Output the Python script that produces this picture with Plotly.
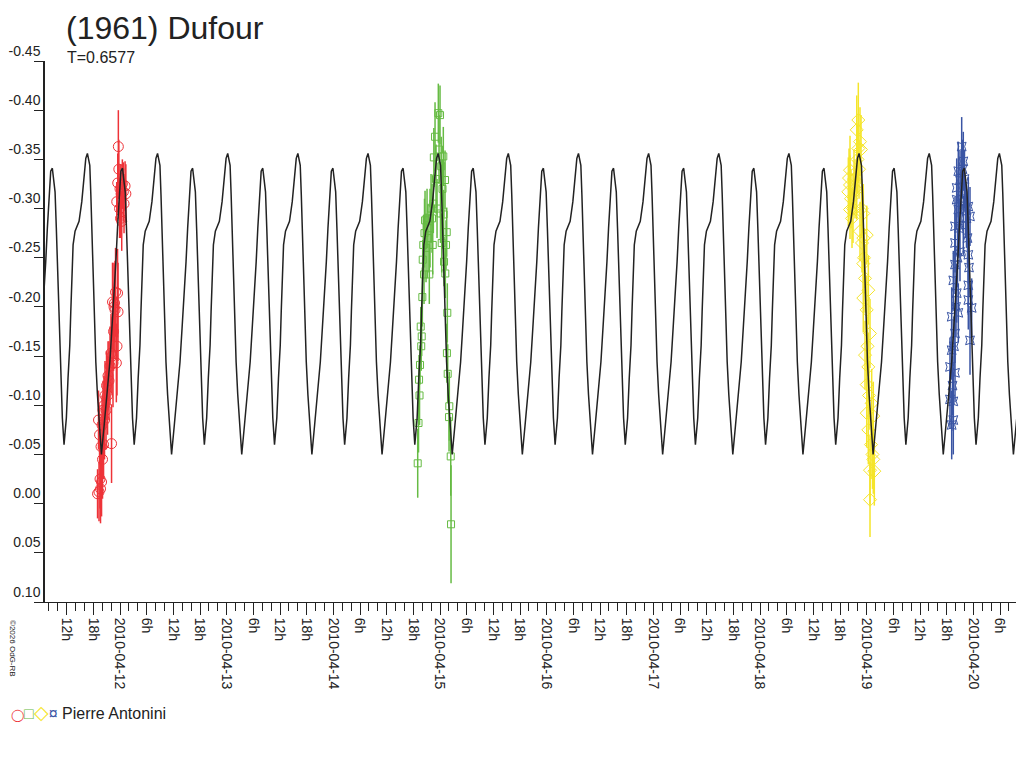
import numpy as np
import pandas as pd
import plotly.graph_objects as go

BASE = pd.Timestamp("2010-04-12 00:00")

# lightcurve model: one cycle, phase counted from the lower maximum
period_h = 0.6577 * 24
epoch_h = 0.55  # hours after 2010-04-12 00:00
model_phase = [0.000, 0.039, 0.057, 0.071, 0.086, 0.096, 0.110, 0.129, 0.143, 0.167,
               0.200, 0.224, 0.249, 0.263, 0.277, 0.296, 0.324, 0.381, 0.420, 0.453,
               0.477, 0.500, 0.534, 0.549, 0.563, 0.571, 0.586, 0.600, 0.620, 0.643,
               0.667, 0.700, 0.739, 0.786, 0.820, 0.849, 0.881, 0.906, 0.929, 0.953, 0.977]
model_mag = [-0.341, -0.317, -0.280, -0.246, -0.212, -0.178, -0.144, -0.111, -0.087, -0.060,
             -0.087, -0.128, -0.161, -0.195, -0.229, -0.263, -0.277, -0.287, -0.307, -0.331,
             -0.351, -0.356, -0.344, -0.314, -0.280, -0.246, -0.212, -0.178, -0.144, -0.111,
             -0.080, -0.050, -0.080, -0.114, -0.144, -0.178, -0.212, -0.246, -0.280, -0.314, -0.338]

# session 1 (red), hours after 2010-04-12 00:00
red_h = [-5.06, -4.84, -4.73, -4.61, -4.50, -4.39, -4.28, -4.16, -4.05, -3.94, -3.83, -3.71,
         -3.60, -3.49, -3.38, -3.15, -3.04, -2.81, -2.70, -2.48, -2.25, -2.03, -1.91, -1.80,
         -1.69, -1.58, -1.46, -1.35, -1.24, -1.13, -1.01, -0.83, -0.68, -0.56, -0.45,
         -0.74, -0.52, -0.38, -0.27, -0.11, 0.00, 0.11, 0.23, 0.38, 0.52, 0.74, 0.90, 1.13, 1.31]
red_mag = [-0.010, -0.085, -0.012, -0.070, -0.025, -0.015, -0.058, -0.022, -0.080, -0.045,
           -0.095, -0.060, -0.100, -0.085, -0.110, -0.095, -0.120, -0.110, -0.130, -0.125,
           -0.140, -0.153, -0.061, -0.150, -0.205, -0.143, -0.175, -0.200, -0.204, -0.197,
           -0.215, -0.143, -0.160, -0.214, -0.195,
           -0.307, -0.326, -0.363, -0.340, -0.300, -0.320, -0.290, -0.315, -0.287, -0.325,
           -0.317, -0.305, -0.323, -0.315]
red_err = [0.025, 0.03, 0.03, 0.03, 0.03, 0.035, 0.03, 0.035, 0.03, 0.04, 0.03, 0.035,
           0.03, 0.04, 0.035, 0.04, 0.035, 0.04, 0.035, 0.04, 0.04, 0.04, 0.04, 0.04,
           0.04, 0.045, 0.04, 0.045, 0.04, 0.05, 0.045, 0.04, 0.05, 0.045, 0.05,
           0.02, 0.03, 0.037, 0.03, 0.03, 0.025, 0.02, 0.03, 0.03, 0.025, 0.03, 0.03, 0.025, 0.03]

# session 2 (green)
green_h = [66.98, 67.16, 67.28, 67.39, 67.50, 67.66, 67.77, 67.88, 68.02, 68.11, 68.24, 68.40,
           68.51, 68.63, 68.85, 69.08, 69.30, 69.59, 69.75, 69.98, 70.20, 70.36, 70.49, 70.61,
           70.88, 71.10, 71.33, 71.62, 71.78, 72.00, 72.11, 72.27, 72.38, 72.56, 72.74, 72.81,
           72.90, 73.13, 73.19, 73.35, 73.51, 73.55, 73.64, 73.73, 74.03, 74.09, 74.41, 74.48]
green_mag = [-0.041, -0.082, -0.126, -0.110, -0.141, -0.180, -0.160, -0.170, -0.210, -0.248,
             -0.263, -0.233, -0.275, -0.288, -0.260, -0.290, -0.270, -0.233, -0.280, -0.300,
             -0.290, -0.263, -0.305, -0.352, -0.373, -0.330, -0.300, -0.397, -0.360, -0.395,
             -0.295, -0.343, -0.265, -0.320, -0.353, -0.294, -0.246, -0.329, -0.234, -0.263,
             -0.276, -0.153, -0.194, -0.132, -0.088, -0.099, -0.048, 0.021]
green_err = [0.035, 0.03, 0.025, 0.03, 0.02, 0.02, 0.025, 0.02, 0.03, 0.02, 0.03, 0.03,
             0.035, 0.03, 0.035, 0.03, 0.035, 0.03, 0.04, 0.035, 0.035, 0.03, 0.03, 0.03,
             0.035, 0.035, 0.03, 0.03, 0.035, 0.03, 0.03, 0.03, 0.03, 0.03, 0.03, 0.025,
             0.025, 0.03, 0.025, 0.025, 0.025, 0.03, 0.03, 0.03, 0.035, 0.035, 0.04, 0.06]

# session 3 (yellow)
yellow_h = [163.87, 164.03, 164.25, 164.25, 164.25, 164.48, 164.70, 164.93, 165.15, 165.38,
            165.76, 165.76, 165.94, 166.12, 166.12, 166.28, 166.50, 166.50, 166.73, 166.84,
            166.95, 167.24, 167.24, 167.24, 167.24, 167.40, 167.63, 167.63, 168.01, 168.01,
            168.01, 168.01, 168.19, 168.37, 168.37, 168.37, 168.53, 168.75, 168.75, 168.75,
            168.98, 169.13, 169.31, 169.49, 169.49, 169.72]
yellow_mag = [-0.317, -0.331, -0.339, -0.324, -0.299, -0.310, -0.290, -0.300, -0.330, -0.320,
              -0.380, -0.319, -0.350, -0.390, -0.361, -0.340, -0.368, -0.277, -0.360, -0.300,
              -0.265, -0.295, -0.270, -0.244, -0.209, -0.250, -0.229, -0.151, -0.273, -0.197,
              -0.121, -0.092, -0.160, -0.217, -0.139, -0.075, -0.110, -0.173, -0.034, -0.004,
              -0.060, -0.102, -0.050, -0.089, -0.045, -0.033]
yellow_err = [0.035, 0.03, 0.035, 0.03, 0.03, 0.03, 0.03, 0.035, 0.03, 0.03,
              0.035, 0.03, 0.035, 0.038, 0.035, 0.03, 0.035, 0.03, 0.035, 0.03,
              0.03, 0.03, 0.035, 0.03, 0.035, 0.03, 0.035, 0.035, 0.03, 0.035,
              0.035, 0.035, 0.03, 0.035, 0.035, 0.035, 0.035, 0.035, 0.035, 0.038,
              0.035, 0.035, 0.035, 0.035, 0.035, 0.035]

# session 4 (blue)
blue_h = [186.75, 186.75, 187.13, 187.13, 187.13, 187.31, 187.49, 187.49, 187.49, 187.65,
          187.88, 187.88, 187.88, 187.88, 187.88, 188.10, 188.26, 188.26, 188.26, 188.44,
          188.62, 188.62, 188.62, 188.78, 189.00, 189.00, 189.23, 189.38, 189.56, 189.74,
          189.74, 190.01, 190.24, 190.46, 190.69, 190.87, 190.87, 190.87, 190.87, 191.03,
          191.25, 191.25, 191.63]
blue_mag = [-0.139, -0.106, -0.190, -0.156, -0.080, -0.120, -0.227, -0.104, -0.085, -0.160,
            -0.282, -0.265, -0.243, -0.173, -0.133, -0.200, -0.321, -0.309, -0.214, -0.250,
            -0.338, -0.299, -0.194, -0.280, -0.329, -0.256, -0.310, -0.363, -0.340, -0.348,
            -0.283, -0.330, -0.300, -0.290, -0.270, -0.302, -0.253, -0.222, -0.207, -0.240,
            -0.292, -0.166, -0.199]
blue_err = [0.03, 0.03, 0.03, 0.03, 0.035, 0.03, 0.03, 0.03, 0.035, 0.03,
            0.03, 0.03, 0.03, 0.03, 0.03, 0.03, 0.03, 0.03, 0.03, 0.03,
            0.03, 0.03, 0.03, 0.03, 0.03, 0.03, 0.03, 0.03, 0.03, 0.03,
            0.03, 0.03, 0.03, 0.03, 0.03, 0.03, 0.03, 0.03, 0.03, 0.03,
            0.03, 0.035, 0.03]

days = ["2010-04-11", "2010-04-12", "2010-04-13", "2010-04-14", "2010-04-15",
        "2010-04-16", "2010-04-17", "2010-04-18", "2010-04-19", "2010-04-20"]
hours_lbl = [0, 6, 12, 18]

y_ticks = [-0.45, -0.40, -0.35, -0.30, -0.25, -0.20, -0.15, -0.10, -0.05, 0.00, 0.05, 0.10]
y_text = ["-0.45", "-0.40", "-0.35", "-0.30", "-0.25", "-0.20", "-0.15", "-0.10", "-0.05",
          "0.00", "0.05", "0.10"]


def to_time(h):
    return BASE + pd.to_timedelta(np.asarray(h, dtype=float), unit="h")


# repeat the read cycle over the observing window
cyc = np.arange(-2, 15)
t_model = np.concatenate([epoch_h + (k + np.array(model_phase)) * period_h for k in cyc])
m_model = np.tile(model_mag, len(cyc))

FONT = "Arial, Liberation Sans, sans-serif"
INK = "#222222"

fig = go.Figure()

sessions = [
    (red_h, red_mag, red_err, "#ee3338", "circle-open", 10),
    (green_h, green_mag, green_err, "#66bb44", "square-open", 7),
    (yellow_h, yellow_mag, yellow_err, "#f5e52a", "diamond-open", 10),
    (blue_h, blue_mag, blue_err, "#3a55a4", "star-square-open", 8),
]
for h, m, e, col, sym, sz in sessions:
    fig.add_trace(go.Scatter(
        x=to_time(h), y=m, mode="markers",
        marker=dict(symbol=sym, size=sz, color=col, line=dict(width=1, color=col)),
        error_y=dict(type="data", array=e, visible=True, color=col, thickness=1.5, width=0),
        showlegend=False,
    ))

fig.add_trace(go.Scatter(
    x=to_time(t_model), y=m_model, mode="lines",
    line=dict(color=INK, width=1.5), showlegend=False,
))

tickvals, ticktext = [], []
for d in days:
    for hh in hours_lbl:
        tickvals.append(pd.Timestamp(d) + pd.Timedelta(hours=hh))
        ticktext.append(d if hh == 0 else f"{hh}h")

# the page body adds an 8px margin, so the figure is laid out 8px up/left
fig.update_layout(
    width=1016, height=760,
    paper_bgcolor="white", plot_bgcolor="white",
    margin=dict(l=37, r=2, t=53, b=166, autoexpand=False),
    font=dict(family=FONT, color=INK),
    title=dict(text="(1961) Dufour", x=58 / 1016, xanchor="left",
               y=1 - 20 / 760, yanchor="middle",
               font=dict(size=32, family=FONT, color=INK)),
    xaxis=dict(
        type="date",
        range=[pd.Timestamp("2010-04-11 07:07"), pd.Timestamp("2010-04-20 10:57")],
        tickmode="array", tickvals=tickvals, ticktext=ticktext,
        tickangle=90, tickfont=dict(size=14),
        ticks="outside", ticklen=12, tickcolor=INK,
        minor=dict(tickmode="linear", tick0="2010-04-11", dtick=2 * 3600 * 1000,
                   ticks="outside", ticklen=8, tickcolor=INK, showgrid=False),
        showline=True, linecolor=INK, linewidth=1,
        showgrid=False, zeroline=False,
    ),
    yaxis=dict(
        range=[0.10, -0.45],
        tickmode="array", tickvals=y_ticks, ticktext=y_text,
        tickfont=dict(size=14),
        ticks="outside", ticklen=9, tickcolor=INK,
        ticklabelposition="outside top",
        showline=True, linecolor=INK, linewidth=1.5,
        showgrid=False, zeroline=False,
    ),
    annotations=[
        dict(text="T=0.6577", xref="paper", yref="paper", x=(65 - 45) / 977, y=1 + 3 / 541,
             xanchor="left", yanchor="middle", showarrow=False,
             font=dict(size=16, family=FONT, color=INK)),
        dict(text="©2026 OdG-RB", xref="paper", yref="paper", x=(13 - 45) / 977,
             y=-(648 - 602) / 541, textangle=90, xanchor="center", yanchor="middle",
             showarrow=False, font=dict(size=8, family=FONT, color=INK)),
        dict(text="<span style='color:#ee3338;font-size:12px'>◯</span>"
                  "<span style='color:#66bb44'>□</span>"
                  "<span style='color:#f5e52a;font-size:19px'>◇</span>"
                  "<span style='color:#3a55a4'>¤</span>"
                  " Pierre Antonini",
             xref="paper", yref="paper", x=(9 - 45) / 977, y=-(712 - 602) / 541,
             xanchor="left", yanchor="middle", showarrow=False,
             font=dict(size=16, family=FONT, color=INK)),
    ],
)

fig.write_html("out.html")
